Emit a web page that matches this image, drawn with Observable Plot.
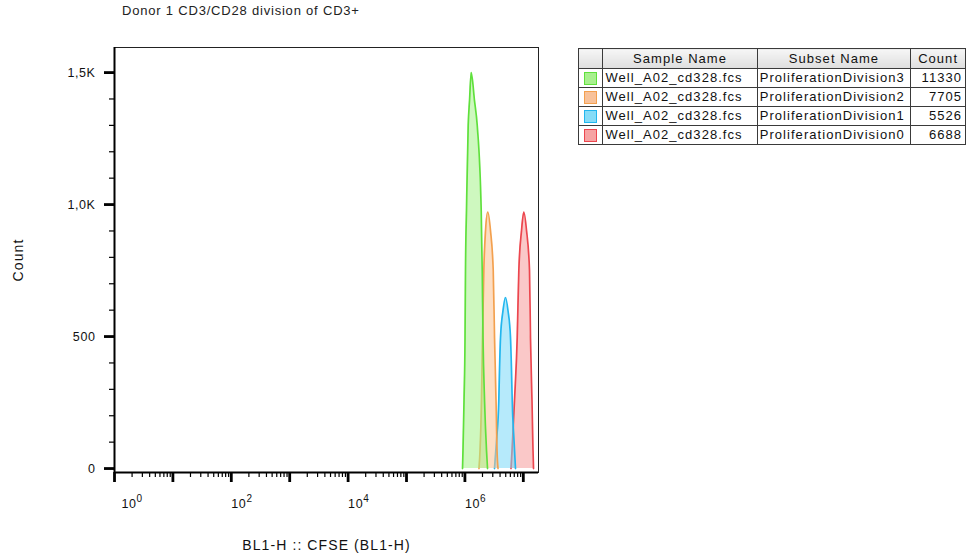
<!DOCTYPE html>
<html>
<head>
<meta charset="utf-8">
<script src="https://cdn.jsdelivr.net/npm/d3@7"></script>
<script src="https://cdn.jsdelivr.net/npm/@observablehq/plot@0.6"></script>
<style>
  html, body { margin: 0; padding: 0; background: #fff; }
  #wrap { position: relative; width: 966px; height: 555px; overflow: hidden; font-family: "Liberation Sans", Arial, sans-serif; }
  #chart { position: absolute; left: 0; top: 0; }
  #title { position: absolute; left: 122px; top: 3px; font-size: 13px; letter-spacing: 0.8px; color: #222; white-space: nowrap; }
  #legend { position: absolute; left: 578px; top: 48px; border-collapse: collapse; font-size: 13px; letter-spacing: 1.05px; color: #111; }
  #legend td, #legend th { border: 1px solid #3a3a3a; padding: 0 2px; height: 18px; line-height: 18px; white-space: nowrap; font-weight: normal; }
  #legend th { background: linear-gradient(#f6f6f6, #dedede); height: 19px; text-align: center; }
  #legend td.num { text-align: right; padding-right: 3px; }
  #legend td.sw { padding: 0; text-align: center; }
  .swatch { display: inline-block; width: 11px; height: 11px; vertical-align: middle; border: 1px solid; }
  #chart svg text { letter-spacing: 0.6px; }
</style>
</head>
<body>
<div id="wrap">
  <div id="chart"></div>
  <div id="title"></div>
  <table id="legend"></table>
</div>
<script>
// ---- Chart text ----
const titleText = "Donor 1 CD3/CD28 division of CD3+";
const xLabel = "BL1-H :: CFSE (BL1-H)";
const yLabel = "Count";

// ---- Legend table ----
const sampleNames = ["Well_A02_cd328.fcs", "Well_A02_cd328.fcs", "Well_A02_cd328.fcs", "Well_A02_cd328.fcs"];
const subsetNames = ["ProliferationDivision3", "ProliferationDivision2", "ProliferationDivision1", "ProliferationDivision0"];
const subsetCounts = [11330, 7705, 5526, 6688];
const strokeColors = ["#5fe03c", "#f3a04e", "#22b6ee", "#ec464e"];
const fillColors = ["#a6f28a", "#fbc293", "#7ad8f8", "#f69a9a"];
const swatchFills = ["#a8f08e", "#f8c29a", "#86dcf7", "#f6a3a3"];

// ---- Histogram series (CFSE intensity, count) ----
const div3X = [9.10e5, 9.27e5, 9.66e5, 1.005e6, 1.023e6, 1.064e6, 1.138e6, 1.200e6, 1.282e6, 1.459e6, 1.626e6, 1.901e6, 1.977e6, 2.042e6, 2.168e6, 2.344e6, 2.438e6];
const div3Y = [0, 68, 258, 496, 750, 977, 1299, 1394, 1500, 1394, 1299, 977, 750, 496, 258, 68, 0];
const div2X = [1.742e6, 1.815e6, 1.923e6, 2.000e6, 2.107e6, 2.254e6, 2.466e6, 2.742e6, 3.053e6, 3.215e6, 3.410e6, 3.548e6, 3.690e6];
const div2Y = [0, 68, 258, 496, 750, 901, 971, 901, 750, 496, 258, 68, 0];
const div1X = [3.212e6, 3.477e6, 3.805e6, 3.910e6, 4.071e6, 4.490e6, 4.955e6, 5.468e6, 6.034e6, 6.279e6, 6.452e6, 6.931e6, 7.346e6];
const div1Y = [0, 106, 258, 371, 496, 598, 648, 598, 496, 371, 258, 106, 0];
const div0X = [6.155e6, 6.410e6, 7.065e6, 7.864e6, 8.380e6, 9.318e6, 1.020e7, 1.136e7, 1.277e7, 1.327e7, 1.408e7, 1.466e7, 1.496e7];
const div0Y = [0, 68, 258, 496, 750, 901, 971, 901, 750, 496, 258, 68, 0];

// ---- Axis ticks ----
const xMajorTicks = [1, 10, 100, 1e3, 1e4, 1e5, 1e6, 1e7];
const xLabelTicks = [1, 100, 1e4, 1e6];
const yMajorTicks = [0, 500, 1000, 1500];
const yMinorTicks = [100, 200, 300, 400, 600, 700, 800, 900, 1100, 1200, 1300, 1400];
const xDomain = [1, 1.82e7];
const yDomain = [-15, 1595];

const xMinorTicks = [];
for (const d of [1, 10, 100, 1e3, 1e4, 1e5, 1e6]) for (let m = 2; m <= 9; m++) xMinorTicks.push(d * m);

// build series table (draw Division0 first so Division3 ends on top)
const seriesX = [div3X, div2X, div1X, div0X];
const seriesY = [div3Y, div2Y, div1Y, div0Y];
const rows = [];
for (let s = 3; s >= 0; s--) {
  seriesX[s].forEach((v, i) => rows.push({series: subsetNames[s], idx: s, v, c: seriesY[s][i]}));
}

const yFmt = d => d >= 1000 ? (d / 1000).toFixed(1).replace(".", ",") + "K" : String(d);
const xFmt = d => "10^" + Math.round(Math.log10(d));

const marks = [];
for (let s = 3; s >= 0; s--) {
  const data = rows.filter(r => r.idx === s);
  marks.push(Plot.areaY(data, {x: "v", y1: 0, y2: "c", fill: fillColors[s], fillOpacity: 0.55, curve: "monotone-x"}));
  marks.push(Plot.lineY(data, {x: "v", y: "c", stroke: strokeColors[s], strokeWidth: 1.7, curve: "monotone-x"}));
}

const chart = Plot.plot({
  width: 966,
  height: 555,
  marginLeft: 114,
  marginRight: 428,
  marginTop: 47,
  marginBottom: 83,
  style: {fontFamily: "'Liberation Sans', Arial, sans-serif", fontSize: "12px", color: "#111", background: "transparent"},
  x: {type: "log", domain: xDomain},
  y: {domain: yDomain},
  marks: [
    ...marks,
    Plot.frame({stroke: "#222", strokeWidth: 1}),
    Plot.ruleX([xDomain[0]], {stroke: "#000", strokeWidth: 2}),
    Plot.ruleY([yDomain[0]], {stroke: "#000", strokeWidth: 2}),
    // x axis
    Plot.axisX({ticks: xMinorTicks, tickSize: 5, tickFormat: () => "", stroke: "#000", strokeWidth: 1.2, label: null}),
    Plot.axisX({ticks: xMajorTicks, tickSize: 10, tickFormat: () => "", stroke: "#000", strokeWidth: 2.8, label: null}),
    Plot.axisX({ticks: xLabelTicks, tickSize: 0, tickPadding: 27, tickFormat: xFmt, textAnchor: "start", fontSize: 12.5, label: null}),
    Plot.axisX({ticks: [], label: xLabel, labelAnchor: "center", labelOffset: 77, labelArrow: "none", fontSize: 14}),
    // y axis
    Plot.axisY({ticks: yMinorTicks, tickSize: 5, tickFormat: () => "", stroke: "#000", strokeWidth: 1.2, label: null}),
    Plot.axisY({ticks: yMajorTicks, tickSize: 10, tickPadding: 9, tickFormat: yFmt, stroke: "#000", strokeWidth: 2.8, fontSize: 12.5, label: null}),
    Plot.axisY({ticks: [], label: yLabel, labelAnchor: "center", labelOffset: 101, labelArrow: "none", fontSize: 14})
  ]
});
document.getElementById("chart").appendChild(chart);

// superscript exponents on the log-axis labels
d3.select(chart).selectAll("g[aria-label='x-axis tick label'] text").each(function(d, i) {
  const t = d3.select(this);
  const txt = t.text();
  if (!txt.includes("^")) return;
  const [base, exp] = txt.split("^");
  t.text(null);
  t.append("tspan").text(base);
  t.append("tspan").attr("dy", "-0.6em").attr("font-size", "10px").text(exp);
  if (exp === "0") t.attr("dx", 7);
});
d3.select(chart).selectAll("g[aria-label='x-axis label'] text, g[aria-label='y-axis label'] text").style("letter-spacing", "1.1px");

// title
document.getElementById("title").textContent = titleText;

// legend table
const table = d3.select("#legend");
const head = table.append("tr");
head.append("th").style("width", "21px").text("");
head.append("th").style("width", "151px").text("Sample Name");
head.append("th").style("width", "149px").text("Subset Name");
head.append("th").style("width", "51px").text("Count");
subsetNames.forEach((name, i) => {
  const tr = table.append("tr");
  tr.append("td").attr("class", "sw").append("span").attr("class", "swatch")
    .style("background", swatchFills[i]).style("border-color", strokeColors[i]);
  tr.append("td").text(sampleNames[i]);
  tr.append("td").text(name);
  tr.append("td").attr("class", "num").text(subsetCounts[i]);
});
</script>
</body>
</html>
